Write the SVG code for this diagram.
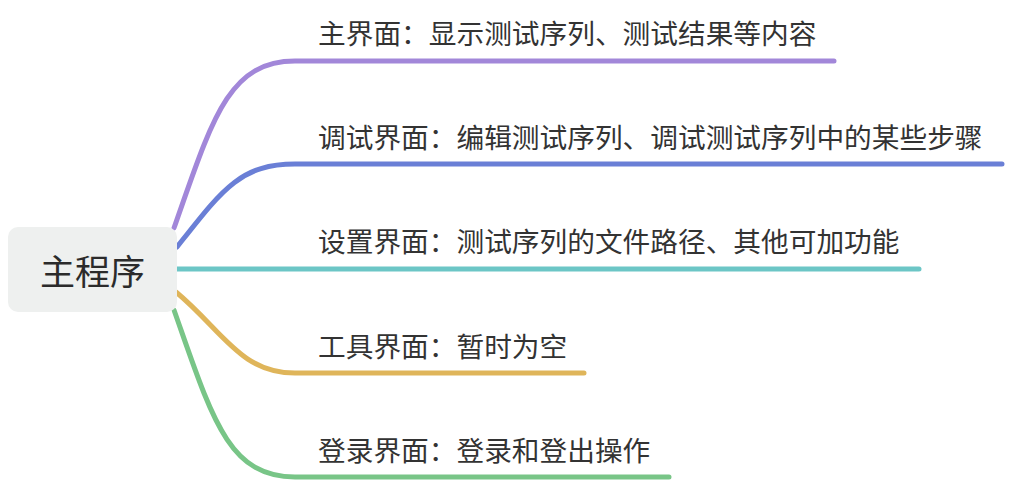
<svg xmlns="http://www.w3.org/2000/svg" width="1010" height="482" viewBox="0 0 1010 482">
<style>
.lbl{font-family:"Noto Sans CJK SC","Noto Sans",sans-serif;font-size:27.7px;fill:#333333;dominant-baseline:central}
.root{font-family:"Noto Sans CJK SC","Noto Sans",sans-serif;font-size:35px;fill:#2b2b2b;dominant-baseline:central;text-anchor:middle}
.br{fill:none;stroke-width:5;stroke-linecap:round}
</style>
<rect width="1010" height="482" fill="#ffffff"/>
<g id="connectors">
<path class="br" stroke="#a287d9" d="M174,228 C212,120 228,61 295,61 L834,61"/>
<path class="br" stroke="#6a7fd6" d="M177,247 C222,190 240,164 295,164 L1002,164"/>
<path class="br" stroke="#6cc6c6" d="M177,269 L919,269"/>
<path class="br" stroke="#dfb55a" d="M176,292 C222,330 240,373 295,373 L584,373"/>
<path class="br" stroke="#78c587" d="M174,310 C212,418 228,477 295,477 L669,477"/>
</g>
<g id="root">
<rect x="8" y="227" width="169" height="85" rx="10" fill="#eef0ef"/>
<text class="root" x="92.5" y="269">主程序</text>
</g>
<g id="n1"><text class="lbl" x="318" y="32">主界面：显示测试序列、测试结果等内容</text></g>
<g id="n2"><text class="lbl" x="318" y="136">调试界面：编辑测试序列、调试测试序列中的某些步骤</text></g>
<g id="n3"><text class="lbl" x="318" y="240">设置界面：测试序列的文件路径、其他可加功能</text></g>
<g id="n4"><text class="lbl" x="318" y="345">工具界面：暂时为空</text></g>
<g id="n5"><text class="lbl" x="318" y="449">登录界面：登录和登出操作</text></g>
</svg>
